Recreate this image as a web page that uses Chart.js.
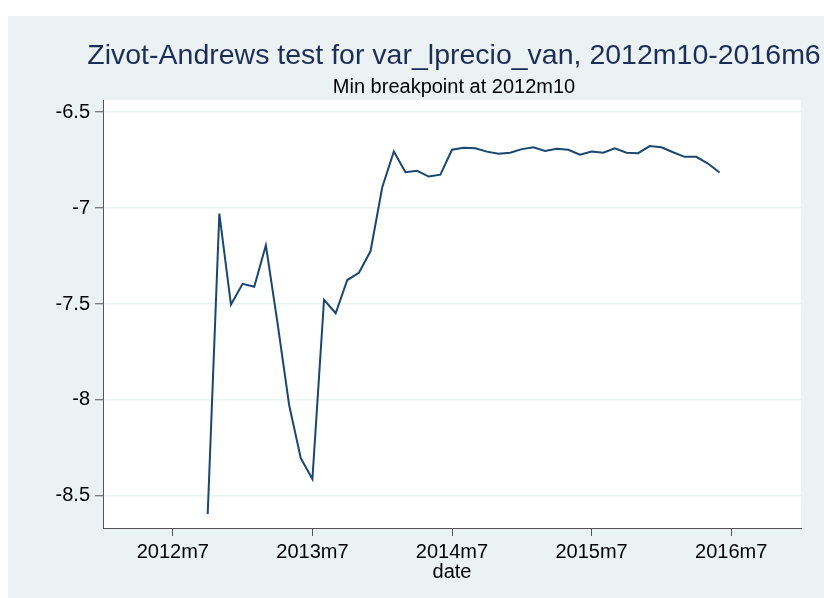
<!DOCTYPE html>
<html>
<head>
<meta charset="utf-8">
<script src="https://cdn.jsdelivr.net/npm/chart.js@4"></script>
<style>
  html, body { margin: 0; padding: 0; background: #fff; }
  canvas { display: block; }
</style>
</head>
<body>
<canvas id="zaChart" width="824" height="598"></canvas>
<script>
// Zivot-Andrews break test statistic by candidate break date
const dates = ['2012m10', '2012m11', '2012m12', '2013m1', '2013m2', '2013m3', '2013m4', '2013m5', '2013m6',
  '2013m7', '2013m8', '2013m9', '2013m10', '2013m11', '2013m12', '2014m1', '2014m2', '2014m3', '2014m4',
  '2014m5', '2014m6', '2014m7', '2014m8', '2014m9', '2014m10', '2014m11', '2014m12', '2015m1', '2015m2',
  '2015m3', '2015m4', '2015m5', '2015m6', '2015m7', '2015m8', '2015m9', '2015m10', '2015m11', '2015m12',
  '2016m1', '2016m2', '2016m3', '2016m4', '2016m5', '2016m6'];
const values = [-8.594, -7.029, -7.503, -7.395, -7.410, -7.194, -7.598, -8.026, -8.303,
  -8.412, -7.478, -7.548, -7.375, -7.337, -7.224, -6.893, -6.705, -6.813, -6.806,
  -6.836, -6.826, -6.696, -6.686, -6.689, -6.706, -6.717, -6.712, -6.693, -6.683,
  -6.703, -6.691, -6.696, -6.722, -6.706, -6.712, -6.689, -6.712, -6.714, -6.677,
  -6.683, -6.709, -6.733, -6.733, -6.768, -6.815];
const xTickLabels = ['2012m7', '2013m7', '2014m7', '2015m7', '2016m7'];
const yTickValues = [-8.5, -8, -7.5, -7, -6.5];
const titleText = 'Zivot-Andrews test for var_lprecio_van, 2012m10-2016m6';
const subtitleText = 'Min breakpoint at 2012m10';

const FONT = "'Liberation Sans', Arial, sans-serif";

// months counted from 2012m1
const toMonth = (s) => {
  const [y, m] = s.split('m').map(Number);
  return (y - 2012) * 12 + (m - 1);
};
const fromMonth = (v) => (2012 + Math.floor(v / 12)) + 'm' + (v % 12 + 1);

const backdrop = {
  id: 'backdrop',
  beforeDraw(chart) {
    const { ctx, chartArea: a } = chart;
    ctx.save();
    ctx.fillStyle = '#ffffff';
    ctx.fillRect(0, 0, chart.width, chart.height);
    ctx.fillStyle = '#eaf2f3';
    ctx.fillRect(8, 16, chart.width - 8, chart.height - 16);
    ctx.fillStyle = '#ffffff';
    ctx.fillRect(a.left, a.top, a.right - a.left, a.bottom - a.top);
    ctx.restore();
  },
  afterDraw(chart) {
    const { ctx, chartArea: a } = chart;
    const cx = (a.left + a.right) / 2 + 2;
    ctx.save();
    ctx.textAlign = 'center';
    ctx.textBaseline = 'alphabetic';
    ctx.fillStyle = '#1e2d58';
    ctx.font = '28.5px ' + FONT;
    ctx.fillText(titleText, cx, 64);
    ctx.fillStyle = '#000000';
    ctx.font = '20px ' + FONT;
    ctx.fillText(subtitleText, cx, 93);
    ctx.restore();
  }
};

new Chart(document.getElementById('zaChart'), {
  type: 'line',
  data: {
    datasets: [{
      label: 'Breakpoint t-statistic',
      data: dates.map((d, i) => ({ x: toMonth(d), y: values[i] })),
      borderColor: '#1a476f',
      borderWidth: 2,
      pointRadius: 0,
      tension: 0,
      fill: false
    }]
  },
  options: {
    responsive: false,
    animation: false,
    layout: { padding: { top: 100, right: 23, left: 0, bottom: 0 } },
    plugins: {
      legend: { display: false },
      tooltip: { enabled: false }
    },
    scales: {
      x: {
        type: 'linear',
        min: 0,
        max: 60,
        afterFit(scale) { scale.height = 70; },
        afterBuildTicks(scale) {
          scale.ticks = xTickLabels.map(t => ({ value: toMonth(t) }));
        },
        ticks: {
          callback: (v) => fromMonth(v),
          font: { family: FONT, size: 20 },
          color: '#000',
          padding: 4,
          maxRotation: 0
        },
        grid: {
          drawOnChartArea: false,
          drawTicks: true,
          tickLength: 8,
          tickColor: '#555',
          tickWidth: 1
        },
        border: { display: true, color: '#555', width: 1 },
        title: {
          display: true,
          text: 'date',
          font: { family: FONT, size: 20 },
          color: '#000',
          padding: { top: 0, bottom: 14 }
        }
      },
      y: {
        min: -8.667,
        max: -6.437,
        afterFit(scale) { scale.width = 103; },
        afterBuildTicks(scale) {
          scale.ticks = yTickValues.map(v => ({ value: v }));
        },
        ticks: {
          callback: (v) => String(v),
          font: { family: FONT, size: 20 },
          color: '#000',
          padding: 5
        },
        grid: {
          color: '#eaf2f3',
          lineWidth: 1.5,
          tickLength: 8,
          tickColor: '#555',
          tickWidth: 1
        },
        border: { display: true, color: '#555', width: 1 }
      }
    }
  },
  plugins: [backdrop]
});
</script>
</body>
</html>
